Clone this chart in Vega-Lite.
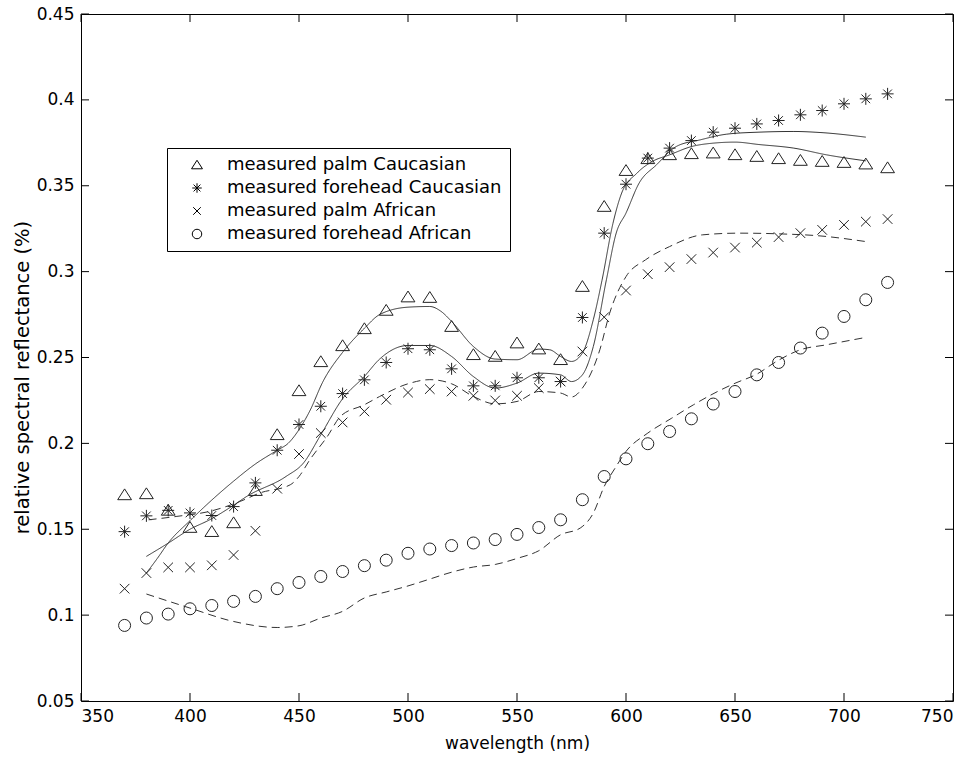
{
  "$schema": "https://vega.github.io/schema/vega-lite/v6.json",
  "width": 872,
  "height": 687,
  "autosize": {"type": "none"},
  "padding": {"left": 81, "top": 14, "right": 19, "bottom": 60},
  "background": "#ffffff",
  "config": {
    "view": {"stroke": "#000000", "strokeWidth": 1},
    "font": "DejaVu Sans",
    "axis": {
      "grid": false,
      "domain": false,
      "ticks": false,
      "labelPadding": 7,
      "labelFont": "DejaVu Sans",
      "labelFontSize": 17,
      "labelColor": "#000000",
      "titleFont": "DejaVu Sans",
      "titleFontSize": 17,
      "titleFontWeight": "normal",
      "titleColor": "#000000"
    }
  },
  "datasets": {
    "xt": [{"t":350},{"t":400},{"t":450},{"t":500},{"t":550},{"t":600},{"t":650},{"t":700},{"t":750}],
    "yt": [{"t":0.05},{"t":0.1},{"t":0.15},{"t":0.2},{"t":0.25},{"t":0.3},{"t":0.35},{"t":0.4},{"t":0.45}],
    "pts": [
      {"w":370,"v":0.170,"s":"measured palm Caucasian"},{"w":380,"v":0.1706,"s":"measured palm Caucasian"},{"w":390,"v":0.161,"s":"measured palm Caucasian"},{"w":400,"v":0.151,"s":"measured palm Caucasian"},{"w":410,"v":0.1486,"s":"measured palm Caucasian"},{"w":420,"v":0.1537,"s":"measured palm Caucasian"},{"w":430,"v":0.1725,"s":"measured palm Caucasian"},{"w":440,"v":0.205,"s":"measured palm Caucasian"},{"w":450,"v":0.2306,"s":"measured palm Caucasian"},{"w":460,"v":0.2475,"s":"measured palm Caucasian"},{"w":470,"v":0.2568,"s":"measured palm Caucasian"},{"w":480,"v":0.2667,"s":"measured palm Caucasian"},{"w":490,"v":0.2774,"s":"measured palm Caucasian"},{"w":500,"v":0.2852,"s":"measured palm Caucasian"},{"w":510,"v":0.2849,"s":"measured palm Caucasian"},{"w":520,"v":0.268,"s":"measured palm Caucasian"},{"w":530,"v":0.2516,"s":"measured palm Caucasian"},{"w":540,"v":0.2506,"s":"measured palm Caucasian"},{"w":550,"v":0.2584,"s":"measured palm Caucasian"},{"w":560,"v":0.2549,"s":"measured palm Caucasian"},{"w":570,"v":0.2487,"s":"measured palm Caucasian"},{"w":580,"v":0.2913,"s":"measured palm Caucasian"},{"w":590,"v":0.3379,"s":"measured palm Caucasian"},{"w":600,"v":0.3588,"s":"measured palm Caucasian"},{"w":610,"v":0.3657,"s":"measured palm Caucasian"},{"w":620,"v":0.368,"s":"measured palm Caucasian"},{"w":630,"v":0.3686,"s":"measured palm Caucasian"},{"w":640,"v":0.369,"s":"measured palm Caucasian"},{"w":650,"v":0.368,"s":"measured palm Caucasian"},{"w":660,"v":0.367,"s":"measured palm Caucasian"},{"w":670,"v":0.3657,"s":"measured palm Caucasian"},{"w":680,"v":0.3647,"s":"measured palm Caucasian"},{"w":690,"v":0.3641,"s":"measured palm Caucasian"},{"w":700,"v":0.3635,"s":"measured palm Caucasian"},{"w":710,"v":0.3626,"s":"measured palm Caucasian"},{"w":720,"v":0.3604,"s":"measured palm Caucasian"},
      {"w":370,"v":0.1486,"s":"measured forehead Caucasian"},{"w":380,"v":0.1578,"s":"measured forehead Caucasian"},{"w":390,"v":0.161,"s":"measured forehead Caucasian"},{"w":400,"v":0.1595,"s":"measured forehead Caucasian"},{"w":410,"v":0.158,"s":"measured forehead Caucasian"},{"w":420,"v":0.1632,"s":"measured forehead Caucasian"},{"w":430,"v":0.177,"s":"measured forehead Caucasian"},{"w":440,"v":0.196,"s":"measured forehead Caucasian"},{"w":450,"v":0.211,"s":"measured forehead Caucasian"},{"w":460,"v":0.2216,"s":"measured forehead Caucasian"},{"w":470,"v":0.229,"s":"measured forehead Caucasian"},{"w":480,"v":0.237,"s":"measured forehead Caucasian"},{"w":490,"v":0.2471,"s":"measured forehead Caucasian"},{"w":500,"v":0.2551,"s":"measured forehead Caucasian"},{"w":510,"v":0.2545,"s":"measured forehead Caucasian"},{"w":520,"v":0.2434,"s":"measured forehead Caucasian"},{"w":530,"v":0.2335,"s":"measured forehead Caucasian"},{"w":540,"v":0.2335,"s":"measured forehead Caucasian"},{"w":550,"v":0.2382,"s":"measured forehead Caucasian"},{"w":560,"v":0.2382,"s":"measured forehead Caucasian"},{"w":570,"v":0.236,"s":"measured forehead Caucasian"},{"w":580,"v":0.2733,"s":"measured forehead Caucasian"},{"w":590,"v":0.3224,"s":"measured forehead Caucasian"},{"w":600,"v":0.3509,"s":"measured forehead Caucasian"},{"w":610,"v":0.3661,"s":"measured forehead Caucasian"},{"w":620,"v":0.3719,"s":"measured forehead Caucasian"},{"w":630,"v":0.3763,"s":"measured forehead Caucasian"},{"w":640,"v":0.3812,"s":"measured forehead Caucasian"},{"w":650,"v":0.3835,"s":"measured forehead Caucasian"},{"w":660,"v":0.386,"s":"measured forehead Caucasian"},{"w":670,"v":0.388,"s":"measured forehead Caucasian"},{"w":680,"v":0.3913,"s":"measured forehead Caucasian"},{"w":690,"v":0.3938,"s":"measured forehead Caucasian"},{"w":700,"v":0.3977,"s":"measured forehead Caucasian"},{"w":710,"v":0.4006,"s":"measured forehead Caucasian"},{"w":720,"v":0.4035,"s":"measured forehead Caucasian"},
      {"w":370,"v":0.1154,"s":"measured palm African"},{"w":380,"v":0.1245,"s":"measured palm African"},{"w":390,"v":0.1278,"s":"measured palm African"},{"w":400,"v":0.1278,"s":"measured palm African"},{"w":410,"v":0.129,"s":"measured palm African"},{"w":420,"v":0.135,"s":"measured palm African"},{"w":430,"v":0.1491,"s":"measured palm African"},{"w":440,"v":0.1736,"s":"measured palm African"},{"w":450,"v":0.1938,"s":"measured palm African"},{"w":460,"v":0.206,"s":"measured palm African"},{"w":470,"v":0.2122,"s":"measured palm African"},{"w":480,"v":0.2186,"s":"measured palm African"},{"w":490,"v":0.2254,"s":"measured palm African"},{"w":500,"v":0.2296,"s":"measured palm African"},{"w":510,"v":0.2316,"s":"measured palm African"},{"w":520,"v":0.2302,"s":"measured palm African"},{"w":530,"v":0.2277,"s":"measured palm African"},{"w":540,"v":0.225,"s":"measured palm African"},{"w":550,"v":0.2277,"s":"measured palm African"},{"w":560,"v":0.2322,"s":"measured palm African"},{"w":570,"v":0.236,"s":"measured palm African"},{"w":580,"v":0.2535,"s":"measured palm African"},{"w":590,"v":0.2735,"s":"measured palm African"},{"w":600,"v":0.289,"s":"measured palm African"},{"w":610,"v":0.2985,"s":"measured palm African"},{"w":620,"v":0.3026,"s":"measured palm African"},{"w":630,"v":0.3073,"s":"measured palm African"},{"w":640,"v":0.3111,"s":"measured palm African"},{"w":650,"v":0.314,"s":"measured palm African"},{"w":660,"v":0.3169,"s":"measured palm African"},{"w":670,"v":0.3201,"s":"measured palm African"},{"w":680,"v":0.3224,"s":"measured palm African"},{"w":690,"v":0.3243,"s":"measured palm African"},{"w":700,"v":0.3272,"s":"measured palm African"},{"w":710,"v":0.3291,"s":"measured palm African"},{"w":720,"v":0.3306,"s":"measured palm African"},
      {"w":370,"v":0.094,"s":"measured forehead African"},{"w":380,"v":0.0983,"s":"measured forehead African"},{"w":390,"v":0.1006,"s":"measured forehead African"},{"w":400,"v":0.1037,"s":"measured forehead African"},{"w":410,"v":0.1056,"s":"measured forehead African"},{"w":420,"v":0.108,"s":"measured forehead African"},{"w":430,"v":0.1109,"s":"measured forehead African"},{"w":440,"v":0.1154,"s":"measured forehead African"},{"w":450,"v":0.119,"s":"measured forehead African"},{"w":460,"v":0.1225,"s":"measured forehead African"},{"w":470,"v":0.1254,"s":"measured forehead African"},{"w":480,"v":0.1288,"s":"measured forehead African"},{"w":490,"v":0.132,"s":"measured forehead African"},{"w":500,"v":0.136,"s":"measured forehead African"},{"w":510,"v":0.1385,"s":"measured forehead African"},{"w":520,"v":0.1405,"s":"measured forehead African"},{"w":530,"v":0.142,"s":"measured forehead African"},{"w":540,"v":0.144,"s":"measured forehead African"},{"w":550,"v":0.147,"s":"measured forehead African"},{"w":560,"v":0.151,"s":"measured forehead African"},{"w":570,"v":0.1555,"s":"measured forehead African"},{"w":580,"v":0.1672,"s":"measured forehead African"},{"w":590,"v":0.1807,"s":"measured forehead African"},{"w":600,"v":0.191,"s":"measured forehead African"},{"w":610,"v":0.1998,"s":"measured forehead African"},{"w":620,"v":0.2069,"s":"measured forehead African"},{"w":630,"v":0.2143,"s":"measured forehead African"},{"w":640,"v":0.2229,"s":"measured forehead African"},{"w":650,"v":0.2302,"s":"measured forehead African"},{"w":660,"v":0.2399,"s":"measured forehead African"},{"w":670,"v":0.2471,"s":"measured forehead African"},{"w":680,"v":0.2555,"s":"measured forehead African"},{"w":690,"v":0.2642,"s":"measured forehead African"},{"w":700,"v":0.2739,"s":"measured forehead African"},{"w":710,"v":0.2836,"s":"measured forehead African"},{"w":720,"v":0.2937,"s":"measured forehead African"}
    ],
    "fits": [
      {"w":380,"v":0.1245,"f":"palm Caucasian","d":"solid"},{"w":385,"v":0.133,"f":"palm Caucasian","d":"solid"},{"w":390,"v":0.142,"f":"palm Caucasian","d":"solid"},{"w":400,"v":0.155,"f":"palm Caucasian","d":"solid"},{"w":410,"v":0.167,"f":"palm Caucasian","d":"solid"},{"w":420,"v":0.178,"f":"palm Caucasian","d":"solid"},{"w":430,"v":0.188,"f":"palm Caucasian","d":"solid"},{"w":440,"v":0.196,"f":"palm Caucasian","d":"solid"},{"w":445,"v":0.2,"f":"palm Caucasian","d":"solid"},{"w":450,"v":0.208,"f":"palm Caucasian","d":"solid"},{"w":455,"v":0.219,"f":"palm Caucasian","d":"solid"},{"w":461,"v":0.236,"f":"palm Caucasian","d":"solid"},{"w":470,"v":0.253,"f":"palm Caucasian","d":"solid"},{"w":480,"v":0.267,"f":"palm Caucasian","d":"solid"},{"w":487,"v":0.275,"f":"palm Caucasian","d":"solid"},{"w":500,"v":0.2793,"f":"palm Caucasian","d":"solid"},{"w":510,"v":0.2797,"f":"palm Caucasian","d":"solid"},{"w":515,"v":0.277,"f":"palm Caucasian","d":"solid"},{"w":520,"v":0.271,"f":"palm Caucasian","d":"solid"},{"w":530,"v":0.2564,"f":"palm Caucasian","d":"solid"},{"w":540,"v":0.2491,"f":"palm Caucasian","d":"solid"},{"w":550,"v":0.2487,"f":"palm Caucasian","d":"solid"},{"w":560,"v":0.2549,"f":"palm Caucasian","d":"solid"},{"w":565,"v":0.2545,"f":"palm Caucasian","d":"solid"},{"w":570,"v":0.2506,"f":"palm Caucasian","d":"solid"},{"w":575,"v":0.2477,"f":"palm Caucasian","d":"solid"},{"w":580,"v":0.2526,"f":"palm Caucasian","d":"solid"},{"w":585,"v":0.272,"f":"palm Caucasian","d":"solid"},{"w":589,"v":0.295,"f":"palm Caucasian","d":"solid"},{"w":594,"v":0.328,"f":"palm Caucasian","d":"solid"},{"w":598,"v":0.3457,"f":"palm Caucasian","d":"solid"},{"w":605,"v":0.3573,"f":"palm Caucasian","d":"solid"},{"w":612,"v":0.3641,"f":"palm Caucasian","d":"solid"},{"w":620,"v":0.368,"f":"palm Caucasian","d":"solid"},{"w":630,"v":0.3728,"f":"palm Caucasian","d":"solid"},{"w":640,"v":0.3748,"f":"palm Caucasian","d":"solid"},{"w":650,"v":0.3754,"f":"palm Caucasian","d":"solid"},{"w":661,"v":0.374,"f":"palm Caucasian","d":"solid"},{"w":677,"v":0.3719,"f":"palm Caucasian","d":"solid"},{"w":692,"v":0.368,"f":"palm Caucasian","d":"solid"},{"w":710,"v":0.3645,"f":"palm Caucasian","d":"solid"},
      {"w":380,"v":0.1342,"f":"forehead Caucasian","d":"solid"},{"w":390,"v":0.1419,"f":"forehead Caucasian","d":"solid"},{"w":400,"v":0.15,"f":"forehead Caucasian","d":"solid"},{"w":409,"v":0.1555,"f":"forehead Caucasian","d":"solid"},{"w":420,"v":0.164,"f":"forehead Caucasian","d":"solid"},{"w":426,"v":0.1691,"f":"forehead Caucasian","d":"solid"},{"w":444,"v":0.1807,"f":"forehead Caucasian","d":"solid"},{"w":452,"v":0.1885,"f":"forehead Caucasian","d":"solid"},{"w":460,"v":0.205,"f":"forehead Caucasian","d":"solid"},{"w":470,"v":0.226,"f":"forehead Caucasian","d":"solid"},{"w":480,"v":0.239,"f":"forehead Caucasian","d":"solid"},{"w":487,"v":0.2491,"f":"forehead Caucasian","d":"solid"},{"w":500,"v":0.257,"f":"forehead Caucasian","d":"solid"},{"w":510,"v":0.257,"f":"forehead Caucasian","d":"solid"},{"w":520,"v":0.2506,"f":"forehead Caucasian","d":"solid"},{"w":530,"v":0.2389,"f":"forehead Caucasian","d":"solid"},{"w":540,"v":0.2322,"f":"forehead Caucasian","d":"solid"},{"w":550,"v":0.2351,"f":"forehead Caucasian","d":"solid"},{"w":560,"v":0.2409,"f":"forehead Caucasian","d":"solid"},{"w":570,"v":0.2399,"f":"forehead Caucasian","d":"solid"},{"w":575,"v":0.236,"f":"forehead Caucasian","d":"solid"},{"w":580,"v":0.2399,"f":"forehead Caucasian","d":"solid"},{"w":585,"v":0.2564,"f":"forehead Caucasian","d":"solid"},{"w":591,"v":0.2952,"f":"forehead Caucasian","d":"solid"},{"w":595.5,"v":0.3224,"f":"forehead Caucasian","d":"solid"},{"w":600,"v":0.3341,"f":"forehead Caucasian","d":"solid"},{"w":606,"v":0.3515,"f":"forehead Caucasian","d":"solid"},{"w":614,"v":0.3622,"f":"forehead Caucasian","d":"solid"},{"w":623,"v":0.3728,"f":"forehead Caucasian","d":"solid"},{"w":634,"v":0.3767,"f":"forehead Caucasian","d":"solid"},{"w":646,"v":0.38,"f":"forehead Caucasian","d":"solid"},{"w":661,"v":0.3812,"f":"forehead Caucasian","d":"solid"},{"w":677,"v":0.3816,"f":"forehead Caucasian","d":"solid"},{"w":689,"v":0.381,"f":"forehead Caucasian","d":"solid"},{"w":710,"v":0.3783,"f":"forehead Caucasian","d":"solid"},
      {"w":381,"v":0.1555,"f":"palm African","d":"dashed"},{"w":394,"v":0.1575,"f":"palm African","d":"dashed"},{"w":409,"v":0.1604,"f":"palm African","d":"dashed"},{"w":423,"v":0.1662,"f":"palm African","d":"dashed"},{"w":432,"v":0.1711,"f":"palm African","d":"dashed"},{"w":446,"v":0.1759,"f":"palm African","d":"dashed"},{"w":450,"v":0.1807,"f":"palm African","d":"dashed"},{"w":455,"v":0.1905,"f":"palm African","d":"dashed"},{"w":463,"v":0.204,"f":"palm African","d":"dashed"},{"w":469,"v":0.2157,"f":"palm African","d":"dashed"},{"w":480,"v":0.2225,"f":"palm African","d":"dashed"},{"w":487,"v":0.2273,"f":"palm African","d":"dashed"},{"w":500,"v":0.2347,"f":"palm African","d":"dashed"},{"w":510,"v":0.2371,"f":"palm African","d":"dashed"},{"w":520,"v":0.2347,"f":"palm African","d":"dashed"},{"w":530,"v":0.2273,"f":"palm African","d":"dashed"},{"w":540,"v":0.223,"f":"palm African","d":"dashed"},{"w":550,"v":0.2244,"f":"palm African","d":"dashed"},{"w":560,"v":0.2302,"f":"palm African","d":"dashed"},{"w":570,"v":0.2293,"f":"palm African","d":"dashed"},{"w":575,"v":0.227,"f":"palm African","d":"dashed"},{"w":580,"v":0.2322,"f":"palm African","d":"dashed"},{"w":588,"v":0.2545,"f":"palm African","d":"dashed"},{"w":592.5,"v":0.2758,"f":"palm African","d":"dashed"},{"w":600,"v":0.2971,"f":"palm African","d":"dashed"},{"w":609,"v":0.3069,"f":"palm African","d":"dashed"},{"w":620,"v":0.3146,"f":"palm African","d":"dashed"},{"w":635,"v":0.3214,"f":"palm African","d":"dashed"},{"w":652,"v":0.3224,"f":"palm African","d":"dashed"},{"w":670,"v":0.322,"f":"palm African","d":"dashed"},{"w":689,"v":0.3208,"f":"palm African","d":"dashed"},{"w":710,"v":0.3175,"f":"palm African","d":"dashed"},
      {"w":380,"v":0.1123,"f":"forehead African","d":"dashed"},{"w":400,"v":0.1041,"f":"forehead African","d":"dashed"},{"w":420,"v":0.0963,"f":"forehead African","d":"dashed"},{"w":440,"v":0.0928,"f":"forehead African","d":"dashed"},{"w":450,"v":0.0938,"f":"forehead African","d":"dashed"},{"w":460,"v":0.0983,"f":"forehead African","d":"dashed"},{"w":470,"v":0.1022,"f":"forehead African","d":"dashed"},{"w":480,"v":0.11,"f":"forehead African","d":"dashed"},{"w":490,"v":0.1135,"f":"forehead African","d":"dashed"},{"w":500,"v":0.117,"f":"forehead African","d":"dashed"},{"w":510,"v":0.121,"f":"forehead African","d":"dashed"},{"w":520,"v":0.125,"f":"forehead African","d":"dashed"},{"w":530,"v":0.128,"f":"forehead African","d":"dashed"},{"w":540,"v":0.1295,"f":"forehead African","d":"dashed"},{"w":550,"v":0.133,"f":"forehead African","d":"dashed"},{"w":560,"v":0.1375,"f":"forehead African","d":"dashed"},{"w":570,"v":0.1468,"f":"forehead African","d":"dashed"},{"w":579,"v":0.1507,"f":"forehead African","d":"dashed"},{"w":585,"v":0.1594,"f":"forehead African","d":"dashed"},{"w":590,"v":0.1749,"f":"forehead African","d":"dashed"},{"w":595,"v":0.1856,"f":"forehead African","d":"dashed"},{"w":600,"v":0.1953,"f":"forehead African","d":"dashed"},{"w":610,"v":0.206,"f":"forehead African","d":"dashed"},{"w":621,"v":0.2147,"f":"forehead African","d":"dashed"},{"w":631,"v":0.2225,"f":"forehead African","d":"dashed"},{"w":642,"v":0.2302,"f":"forehead African","d":"dashed"},{"w":650,"v":0.235,"f":"forehead African","d":"dashed"},{"w":660,"v":0.2403,"f":"forehead African","d":"dashed"},{"w":669,"v":0.2477,"f":"forehead African","d":"dashed"},{"w":680,"v":0.2545,"f":"forehead African","d":"dashed"},{"w":692,"v":0.2574,"f":"forehead African","d":"dashed"},{"w":710,"v":0.2617,"f":"forehead African","d":"dashed"}
    ]
  },
  "layer": [
    {
      "data": {"name": "fits"},
      "mark": {"type": "line", "color": "#333333", "strokeWidth": 1, "interpolate": "monotone"},
      "encoding": {
        "x": {"field": "w", "type": "quantitative", "scale": {"domain": [350, 750], "nice": false, "zero": false},
              "axis": {"orient": "bottom", "values": [350,400,450,500,550,600,650,700,750], "format": "d", "title": "wavelength (nm)", "titlePadding": 11}},
        "y": {"field": "v", "type": "quantitative", "scale": {"domain": [0.05, 0.45], "nice": false, "zero": false},
              "axis": {"orient": "left", "values": [0.05,0.1,0.15,0.2,0.25,0.3,0.35,0.4,0.45], "format": "~g", "title": "relative spectral reflectance (%)", "titleFontSize": 19.5, "titlePadding": 4, "titleY": 363}},
        "detail": {"field": "f"},
        "strokeDash": {"field": "d", "type": "nominal", "scale": {"domain": ["solid", "dashed"], "range": [[1, 0], [8, 5]]}, "legend": null}
      }
    },
    {
      "data": {"name": "xt"},
      "mark": {"type": "tick", "orient": "vertical", "size": 8, "thickness": 1, "color": "#000000", "opacity": 1, "yOffset": -4},
      "encoding": {
        "x": {"field": "t", "type": "quantitative"},
        "y": {"datum": 0.05, "type": "quantitative"}
      }
    },
    {
      "data": {"name": "xt"},
      "mark": {"type": "tick", "orient": "vertical", "size": 8, "thickness": 1, "color": "#000000", "opacity": 1, "yOffset": 4},
      "encoding": {
        "x": {"field": "t", "type": "quantitative"},
        "y": {"datum": 0.45, "type": "quantitative"}
      }
    },
    {
      "data": {"name": "yt"},
      "mark": {"type": "tick", "orient": "horizontal", "size": 8, "thickness": 1, "color": "#000000", "opacity": 1, "xOffset": 4},
      "encoding": {
        "y": {"field": "t", "type": "quantitative"},
        "x": {"datum": 350, "type": "quantitative"}
      }
    },
    {
      "data": {"name": "yt"},
      "mark": {"type": "tick", "orient": "horizontal", "size": 8, "thickness": 1, "color": "#000000", "opacity": 1, "xOffset": -4},
      "encoding": {
        "y": {"field": "t", "type": "quantitative"},
        "x": {"datum": 750, "type": "quantitative"}
      }
    },
    {
      "data": {"name": "pts"},
      "mark": {"type": "point", "filled": false, "color": "#222222", "strokeWidth": 1, "size": 144, "opacity": 1},
      "encoding": {
        "x": {"field": "w", "type": "quantitative"},
        "y": {"field": "v", "type": "quantitative"},
        "shape": {
          "field": "s", "type": "nominal",
          "scale": {
            "domain": ["measured palm Caucasian", "measured forehead Caucasian", "measured palm African", "measured forehead African"],
            "range": ["M0,-1L1.15,0.8L-1.15,0.8Z", "M-1,0L1,0M0,-1L0,1M-0.72,-0.72L0.72,0.72M-0.72,0.72L0.72,-0.72", "M-0.8,-0.8L0.8,0.8M-0.8,0.8L0.8,-0.8", "circle"]
          },
          "legend": {
            "orient": "none", "legendX": 86, "legendY": 134, "title": null,
            "strokeColor": "#000000", "fillColor": "#ffffff", "padding": 8,
            "symbolOffset": 13, "symbolSize": 90, "symbolStrokeColor": "#000000", "symbolFillColor": "transparent", "symbolStrokeWidth": 1,
            "labelFont": "DejaVu Sans", "labelFontSize": 18, "labelColor": "#000000", "labelOffset": 21, "rowPadding": 5, "labelLimit": 400
          }
        }
      }
    }
  ]
}
